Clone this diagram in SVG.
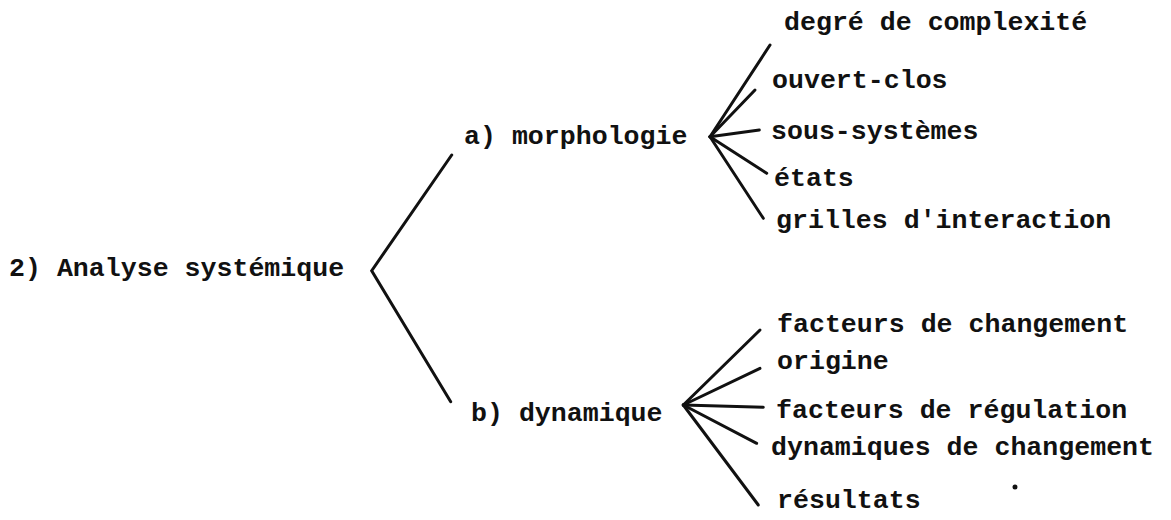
<svg xmlns="http://www.w3.org/2000/svg" width="1171" height="520" viewBox="0 0 1171 520">
  <style>
    .t { font-family: "Liberation Mono", "Courier New", monospace; font-size: 26.6px; font-weight: bold; fill: #111; }
    .c { stroke: #111; stroke-width: 3; stroke-linecap: round; fill: none; }
  </style>
  <rect width="1171" height="520" fill="#fff"/>

  <!-- connectors -->
  <g id="connectors" class="c">
    <!-- root bracket -->
    <polyline points="451.7,155 371.7,270.7 450.7,401.7"/>
    <!-- morphologie fan -->
    <line x1="710" y1="136.7" x2="770" y2="45"/>
    <line x1="710" y1="136.7" x2="755" y2="90"/>
    <line x1="710" y1="136.7" x2="759.3" y2="130"/>
    <line x1="710" y1="136.7" x2="766.7" y2="173.3"/>
    <line x1="710" y1="136.7" x2="763.3" y2="218.3"/>
    <!-- dynamique fan -->
    <line x1="683.3" y1="405" x2="760" y2="330"/>
    <line x1="683.3" y1="405" x2="760" y2="368.3"/>
    <line x1="683.3" y1="405" x2="763.3" y2="407.3"/>
    <line x1="683.3" y1="405" x2="756.7" y2="443.3"/>
    <line x1="683.3" y1="405" x2="758.3" y2="505"/>
  </g>

  <g id="root"><text class="t" x="9" y="276">2) Analyse systémique</text></g>
  <g id="morphologie"><text class="t" x="464" y="144">a) morphologie</text></g>
  <g id="dynamique"><text class="t" x="471" y="421">b) dynamique</text></g>

  <g id="m1"><text class="t" x="784" y="30">degré de complexité</text></g>
  <g id="m2"><text class="t" x="772" y="88">ouvert-clos</text></g>
  <g id="m3"><text class="t" x="771" y="139">sous-systèmes</text></g>
  <g id="m4"><text class="t" x="774" y="186">états</text></g>
  <g id="m5"><text class="t" x="776" y="228">grilles d'interaction</text></g>

  <g id="d1"><text class="t" x="777" y="332">facteurs de changement</text></g>
  <g id="d2"><text class="t" x="777" y="369">origine</text></g>
  <g id="d3"><text class="t" x="776" y="418">facteurs de régulation</text></g>
  <g id="d4"><text class="t" x="771" y="455">dynamiques de changement</text></g>
  <g id="d5"><text class="t" x="777" y="508">résultats</text></g>

  <circle cx="1015" cy="487" r="2.5" fill="#111"/>
</svg>
